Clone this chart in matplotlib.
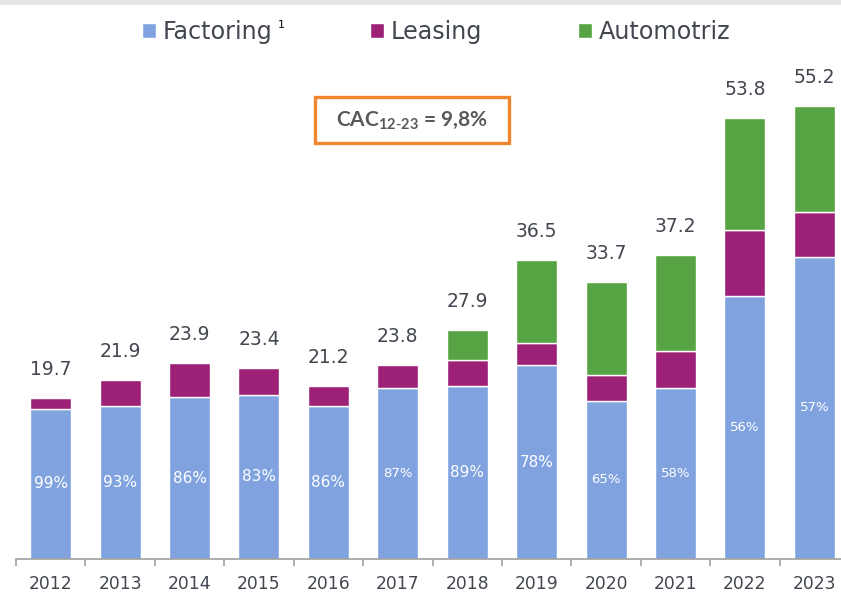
import numpy as np
import matplotlib
matplotlib.use("Agg")
import matplotlib.pyplot as plt
from matplotlib.patches import Rectangle

# ---------------- data ----------------
years = ["2012", "2013", "2014", "2015", "2016", "2017",
         "2018", "2019", "2020", "2021", "2022", "2023"]
factoring = [18.3, 18.6, 19.7, 20.0, 18.7, 20.8, 21.1, 23.6, 19.3, 20.8, 32.1, 36.8]
leasing = [1.3, 3.2, 4.2, 3.3, 2.4, 2.8, 3.1, 2.7, 3.1, 4.6, 8.0, 5.5]
automotriz = [0, 0, 0, 0, 0, 0, 3.7, 10.1, 11.3, 11.7, 13.6, 12.9]
total_labels = ["19.7", "21.9", "23.9", "23.4", "21.2", "23.8",
                "27.9", "36.5", "33.7", "37.2", "53.8", "55.2"]
factoring_share = ["99%", "93%", "86%", "83%", "86%", "87%",
                   "89%", "78%", "65%", "58%", "56%", "57%"]
series_names = ["Factoring", "Leasing", "Automotriz"]
footnote_mark = "1"
cac_text = "CAC$_{12\\text{-}23}$ = 9,8%"

# ---------------- style ----------------
plt.rcParams["font.family"] = ["DejaVu Sans"]
plt.rcParams["mathtext.default"] = "regular"
C_FACT = "#80a3e0"
C_LEAS = "#9e2178"
C_AUTO = "#56a443"
TXT = "#41464f"

W, H = 841, 596
fig = plt.figure(figsize=(W / 100, H / 100), dpi=100)
fig.patch.set_facecolor("white")

# top gray strip
fig.patches.append(Rectangle((0, 1 - 5 / H), 1, 5 / H, transform=fig.transFigure,
                             facecolor="#e5e5e5", edgecolor="none"))

ymax = 60
px_per_unit = 8.207
ax = fig.add_axes([16 / W, 37 / H, 833 / W, ymax * px_per_unit / H])
ax.set_facecolor("none")

x = np.arange(len(years))
fact = np.array(factoring)
leas = np.array(leasing)
auto = np.array(automotriz)
bw = 0.59

b1 = ax.bar(x, fact, bw, color=C_FACT, edgecolor="white", linewidth=1.0, clip_on=False)
b2 = ax.bar(x, leas, bw, bottom=fact, color=C_LEAS, edgecolor="white", linewidth=1.0, clip_on=False)
m = auto > 0
b3 = ax.bar(x[m], auto[m], bw, bottom=(fact + leas)[m], color=C_AUTO,
            edgecolor="white", linewidth=1.0, clip_on=False)

totals = fact + leas + auto
for xi, t, lab in zip(x, totals, total_labels):
    ax.annotate(lab, (xi, t), xytext=(0, 20.5), textcoords="offset points",
                ha="center", va="center", fontsize=13.5, color=TXT)

for i, (xi, f, lab) in enumerate(zip(x, fact, factoring_share)):
    fs = 9.5 if (i == 5 or i >= 8) else 11
    ax.text(xi, f / 2, lab, ha="center", va="center", fontsize=fs, color="white")

ax.set_xlim(-0.5, len(years) - 0.5)
ax.set_ylim(0, ymax)
for s in ["top", "right", "left"]:
    ax.spines[s].set_visible(False)
ax.spines["bottom"].set_color("#a0a0a0")
ax.spines["bottom"].set_linewidth(1.2)
ax.set_yticks([])
ax.set_xticks(x)
ax.set_xticklabels(years, fontsize=12.3, color=TXT)
ax.tick_params(axis="x", which="major", length=0, pad=11.5)
ax.set_xticks(np.arange(-0.5, len(years), 1.0), minor=True)
ax.tick_params(axis="x", which="minor", length=5, width=1.2, color="#a0a0a0", direction="out")

# legend: one entry each, placed at the reference positions
handles = [b1, b2, b3]
leg_x = [142, 370, 578]
for h, name, lx in zip(handles, series_names, leg_x):
    lg = fig.legend([h], [name], loc="center left",
                    bbox_to_anchor=(lx / W, 1 - 32 / H), frameon=False,
                    fontsize=17.2, handlelength=0.58, handleheight=0.58,
                    handletextpad=0.3, borderpad=0, borderaxespad=0)
    for t in lg.get_texts():
        t.set_color(TXT)
fig.text(281 / W, 1 - 25 / H, footnote_mark, ha="center", va="center",
         fontsize=8, color="black")

# CAC box
bx0, bx1, by0, by1 = 315, 509, 96.5, 143
fig.patches.append(Rectangle((bx0 / W, 1 - by1 / H), (bx1 - bx0) / W, (by1 - by0) / H,
                             transform=fig.transFigure, facecolor="white",
                             edgecolor="#f0862e", linewidth=2.4))
fig.text(412 / W, 1 - 120 / H, cac_text, ha="center", va="center",
         fontsize=15, fontweight="bold", color="#595959", family=["Lato", "DejaVu Sans"])

fig.savefig("out.png", dpi=100)
